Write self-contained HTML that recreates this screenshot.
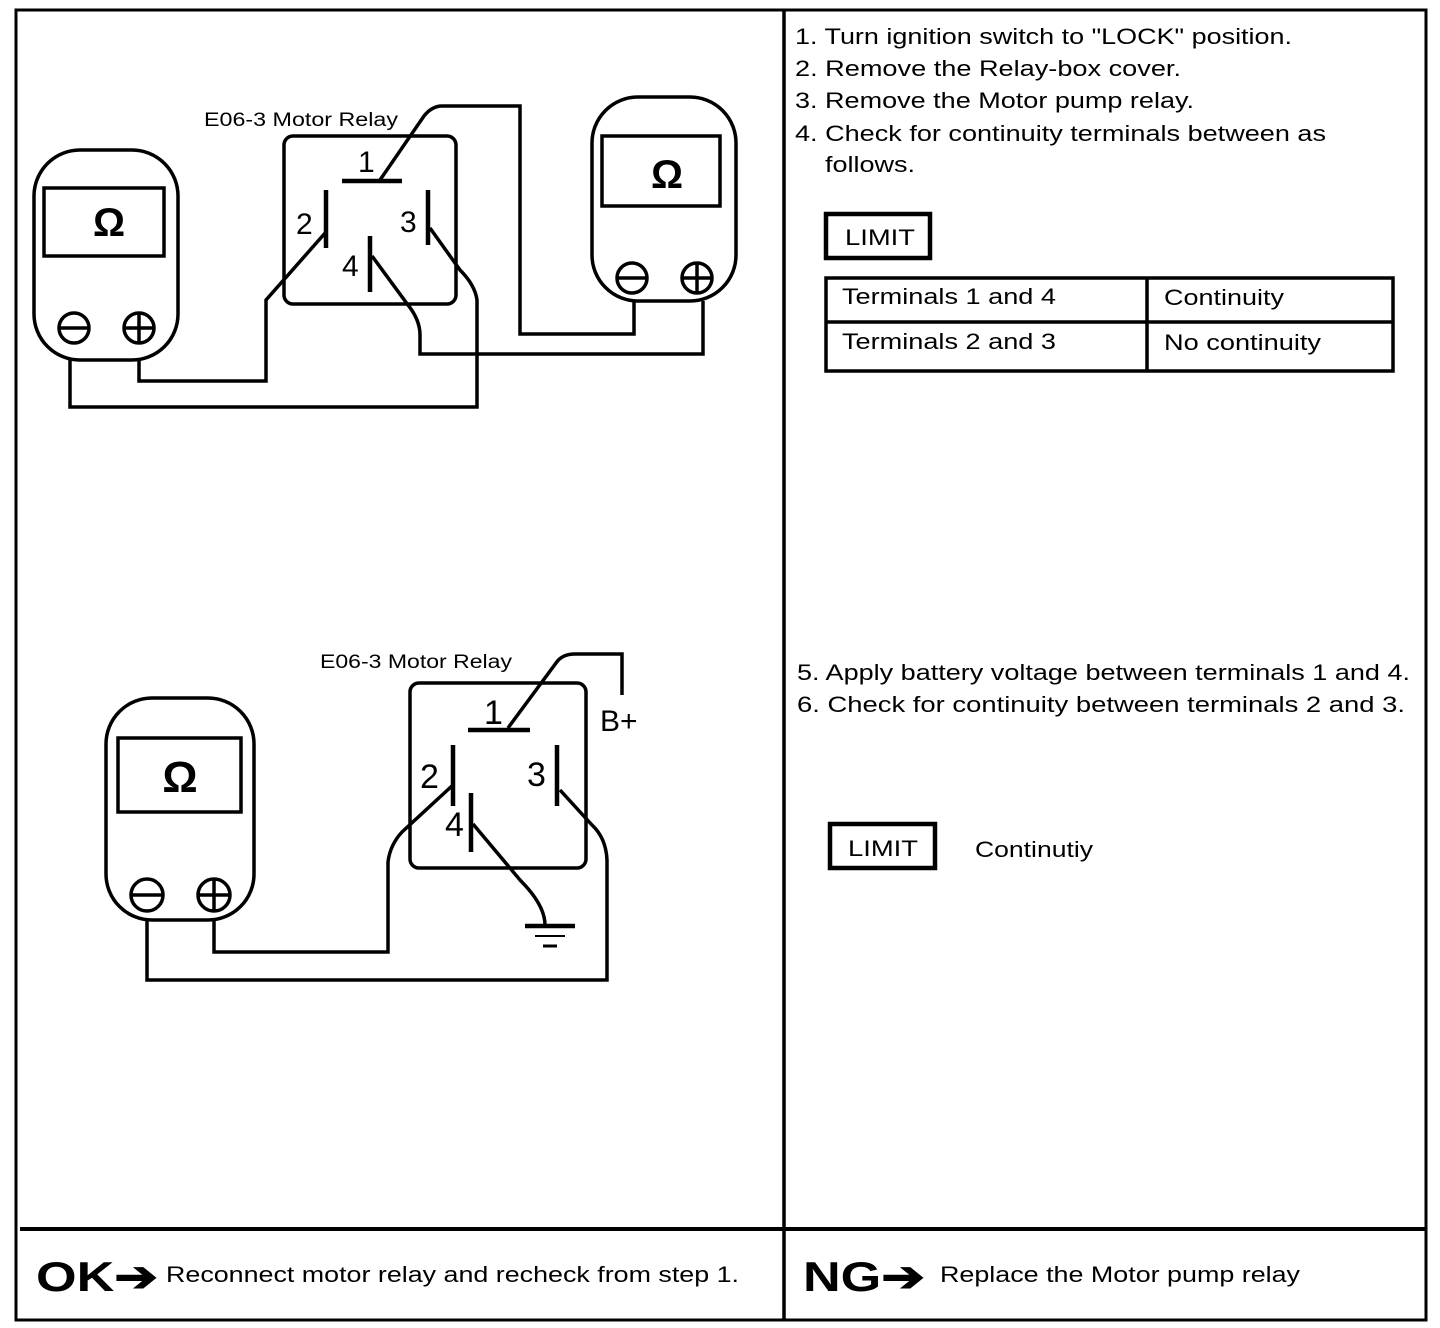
<!DOCTYPE html>
<html><head><meta charset="utf-8"><style>
html,body{margin:0;padding:0;background:#fff}
svg{display:block}
text{font-family:"Liberation Sans",Arial,sans-serif;fill:#000}
</style></head><body>
<svg width="1440" height="1328" viewBox="0 0 1440 1328" xmlns="http://www.w3.org/2000/svg">
<g fill="none" stroke="#000" stroke-width="3.5">
<rect x="16" y="10" width="1410" height="1310" stroke-width="3"/>
<line x1="784" y1="10" x2="784" y2="1320"/>
<line x1="20" y1="1229" x2="1426" y2="1229" stroke-width="4"/>

<rect x="34" y="150" width="144" height="210" rx="46"/>
<rect x="44" y="188" width="120" height="68"/>
<circle cx="74" cy="328" r="15"/><line x1="59" y1="328" x2="89" y2="328"/>
<circle cx="139" cy="328" r="15"/><line x1="124" y1="328" x2="154" y2="328"/><line x1="139" y1="313" x2="139" y2="343"/>
<rect x="592" y="97" width="144" height="204" rx="46"/>
<rect x="602" y="136" width="118" height="70"/>
<circle cx="632" cy="278" r="15"/><line x1="617" y1="278" x2="647" y2="278"/>
<circle cx="697" cy="278" r="15"/><line x1="682" y1="278" x2="712" y2="278"/><line x1="697" y1="263" x2="697" y2="293"/>
<rect x="284" y="136" width="172" height="168" rx="9"/>
<line x1="342" y1="181" x2="402" y2="181" stroke-width="4.5"/>
<line x1="326" y1="190" x2="326" y2="248" stroke-width="4.5"/>
<line x1="428" y1="190" x2="428" y2="245" stroke-width="4.5"/>
<line x1="370" y1="236" x2="370" y2="292" stroke-width="4.5"/>
<path d="M70 360 V407 H477 V300 Q475 285 460 270 L430 228"/>
<path d="M139 360 V381 H266 V300 L326 232"/>
<path d="M380 180 L424 116 Q432 106 442 106 H520 V334 H634 V301"/>
<path d="M372 256 L408 305 Q420 320 420 335 V354 H703 V301"/>

<rect x="106" y="698" width="148" height="222" rx="46"/>
<rect x="118" y="738" width="123" height="74"/>
<circle cx="147" cy="895" r="16"/><line x1="131" y1="895" x2="163" y2="895"/>
<circle cx="214" cy="895" r="16"/><line x1="198" y1="895" x2="230" y2="895"/><line x1="214" y1="879" x2="214" y2="911"/>
<rect x="410" y="683" width="176" height="185" rx="9"/>
<line x1="468" y1="730" x2="530" y2="730" stroke-width="4.5"/>
<line x1="453" y1="745" x2="453" y2="806" stroke-width="4.5"/>
<line x1="557" y1="745" x2="557" y2="806" stroke-width="4.5"/>
<line x1="471" y1="793" x2="471" y2="852" stroke-width="4.5"/>
<path d="M508 728 L556 663 Q562 654 575 654 H622 V695"/>
<path d="M473 824 L520 880 Q545 905 545 925"/>
<line x1="525" y1="926" x2="575" y2="926" stroke-width="4.5"/>
<line x1="535" y1="936" x2="565" y2="936" stroke-width="2"/>
<line x1="543" y1="946" x2="557" y2="946" stroke-width="3"/>
<path d="M147 920 V980 H607 V860 Q606 838 592 825 L560 790"/>
<path d="M214 920 V952 H388 V862 Q390 845 402 832 L453 785"/>

<rect x="826" y="214" width="104" height="44" stroke-width="4.5"/>
<rect x="826" y="278" width="567" height="93"/>
<line x1="826" y1="322" x2="1393" y2="322"/>
<line x1="1147" y1="278" x2="1147" y2="371"/>
<rect x="830" y="824" width="105" height="44" stroke-width="4.5"/>
</g>

<g font-size="22">
<text x="109" y="236" font-size="40" font-weight="bold" text-anchor="middle">Ω</text>
<text x="667" y="188" font-size="40" font-weight="bold" text-anchor="middle">Ω</text>
<text x="180" y="792" font-size="44" font-weight="bold" text-anchor="middle">Ω</text>
<text x="204" y="126" font-size="19" textLength="194" lengthAdjust="spacingAndGlyphs">E06-3 Motor Relay</text>
<text x="320" y="668" font-size="19" textLength="192" lengthAdjust="spacingAndGlyphs">E06-3 Motor Relay</text>
<text x="358" y="172" font-size="30">1</text>
<text x="296" y="234" font-size="30">2</text>
<text x="400" y="232" font-size="30">3</text>
<text x="342" y="276" font-size="30">4</text>
<text x="484" y="724" font-size="34">1</text>
<text x="420" y="788" font-size="34">2</text>
<text x="527" y="786" font-size="34">3</text>
<text x="445" y="836" font-size="34">4</text>
<text x="600" y="731" font-size="30">B+</text>

<text x="795" y="44" textLength="497" lengthAdjust="spacingAndGlyphs">1. Turn ignition switch to "LOCK" position.</text>
<text x="795" y="76" textLength="386" lengthAdjust="spacingAndGlyphs">2. Remove the Relay-box cover.</text>
<text x="795" y="108" textLength="399" lengthAdjust="spacingAndGlyphs">3. Remove the Motor pump relay.</text>
<text x="795" y="141" textLength="531" lengthAdjust="spacingAndGlyphs">4. Check for continuity terminals between as</text>
<text x="825" y="172" textLength="90" lengthAdjust="spacingAndGlyphs">follows.</text>
<text x="845" y="245" textLength="70" lengthAdjust="spacingAndGlyphs">LIMIT</text>
<text x="842" y="304" textLength="214" lengthAdjust="spacingAndGlyphs">Terminals 1 and 4</text>
<text x="1164" y="305" textLength="120" lengthAdjust="spacingAndGlyphs">Continuity</text>
<text x="842" y="349" textLength="214" lengthAdjust="spacingAndGlyphs">Terminals 2 and 3</text>
<text x="1164" y="350" textLength="157" lengthAdjust="spacingAndGlyphs">No continuity</text>
<text x="797" y="680" textLength="613" lengthAdjust="spacingAndGlyphs">5. Apply battery voltage between terminals 1 and 4.</text>
<text x="797" y="712" textLength="608" lengthAdjust="spacingAndGlyphs">6. Check for continuity between terminals 2 and  3.</text>
<text x="848" y="856" textLength="70" lengthAdjust="spacingAndGlyphs">LIMIT</text>
<text x="975" y="857" textLength="118" lengthAdjust="spacingAndGlyphs">Continutiy</text>

<text x="36" y="1291" font-size="42" font-weight="bold" textLength="122" lengthAdjust="spacingAndGlyphs">OK➔</text>
<text x="166" y="1282" textLength="573" lengthAdjust="spacingAndGlyphs">Reconnect motor relay and recheck from step 1.</text>
<text x="803" y="1291" font-size="42" font-weight="bold" textLength="122" lengthAdjust="spacingAndGlyphs">NG➔</text>
<text x="940" y="1282" textLength="360" lengthAdjust="spacingAndGlyphs">Replace the Motor pump relay</text>
</g>
</svg>
</body></html>
